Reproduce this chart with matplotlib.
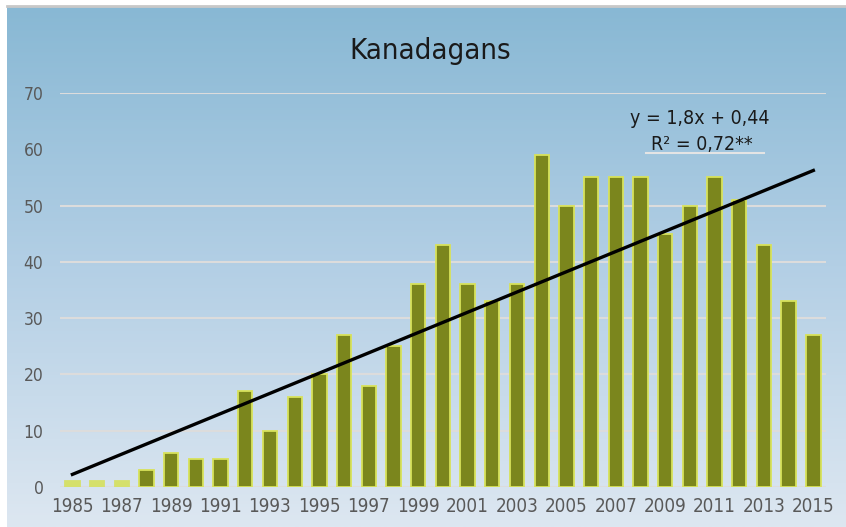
import matplotlib.pyplot as plt
import numpy as np
from matplotlib.colors import LinearSegmentedColormap

years = list(range(1985, 2016))
counts = [1, 1, 1, 3, 6, 5, 5, 17, 10, 16, 20, 27, 18, 25, 36, 43, 36, 33, 36,
          59, 50, 55, 55, 55, 45, 50, 55, 51, 43, 33, 27]
slope, intercept = 1.8, 0.44
eq_text = "y = 1,8x + 0,44"
r2_text = "R² = 0,72**"
title = "Kanadagans"

font = ["DejaVu Sans"]
txt_col = "#595959"

fig = plt.figure(figsize=[8.46, 5.27], dpi=100, facecolor="white")

# gradient background
bg = fig.add_axes([0.008, 0, 0.992, 0.987])
bg.axis("off")
cmap = LinearSegmentedColormap.from_list("bg", ["#88b8d4", "#b3cfe5", "#dde7f1"])
bg.imshow(np.linspace(0, 1, 256).reshape(-1, 1), aspect="auto", cmap=cmap,
          extent=[0, 1, 0, 1])
bg.set_xlim(0, 1)
bg.set_ylim(0, 1)
fig.add_artist(plt.Line2D([0.008, 1], [0.988, 0.988], color="#c8c8c8", lw=2))

ax = fig.add_axes([0.071, 0.0759, 0.905, 0.7476])
ax.patch.set_alpha(0)
for s in ax.spines.values():
    s.set_visible(False)

ax.set_xlim(1984.5, 2015.5)
ax.set_ylim(0, 70)
for g in [0, 10, 20, 30, 40, 50, 70]:
    ax.axhline(g, color="#dcdcdc", lw=1.5, zorder=1)
ax.axhline(59.3, xmin=0.765, xmax=0.92, color="#e4e4e4", lw=1.5, zorder=1)

fills = ["#d5e06b" if i < 3 else "#7b861d" for i in range(len(years))]
edges = ["#d5e06b" if i < 3 else "#d8e25a" for i in range(len(years))]
ax.bar(years, counts, width=0.58, color=fills, edgecolor=edges, linewidth=1.3,
       zorder=2)

idx = np.arange(1, len(years) + 1)
ax.plot(years, slope * idx + intercept, color="black", lw=2.4, zorder=3)

ax.set_yticks(range(0, 80, 10))
ax.set_xticks(years[::2])
ax.tick_params(length=0, labelsize=13.5, colors=txt_col, pad=7)
ax.tick_params(axis="y", labelsize=12.5, pad=12)
for lab in ax.get_xticklabels() + ax.get_yticklabels():
    lab.set_family(font)
    lab.set_stretch("condensed")

fig.text(0.508, 0.903, title, ha="center", va="center", fontsize=21,
         family=font, stretch="condensed", color="#1a1a1a")
ax.text(2010.4, 65.5, eq_text, ha="center", va="center", fontsize=14,
        family=font, stretch="condensed", color="#1a1a1a")
ax.text(2010.5, 60.9, r2_text, ha="center", va="center", fontsize=14,
        family=font, stretch="condensed", color="#1a1a1a")

plt.savefig("out.png", dpi=100)
